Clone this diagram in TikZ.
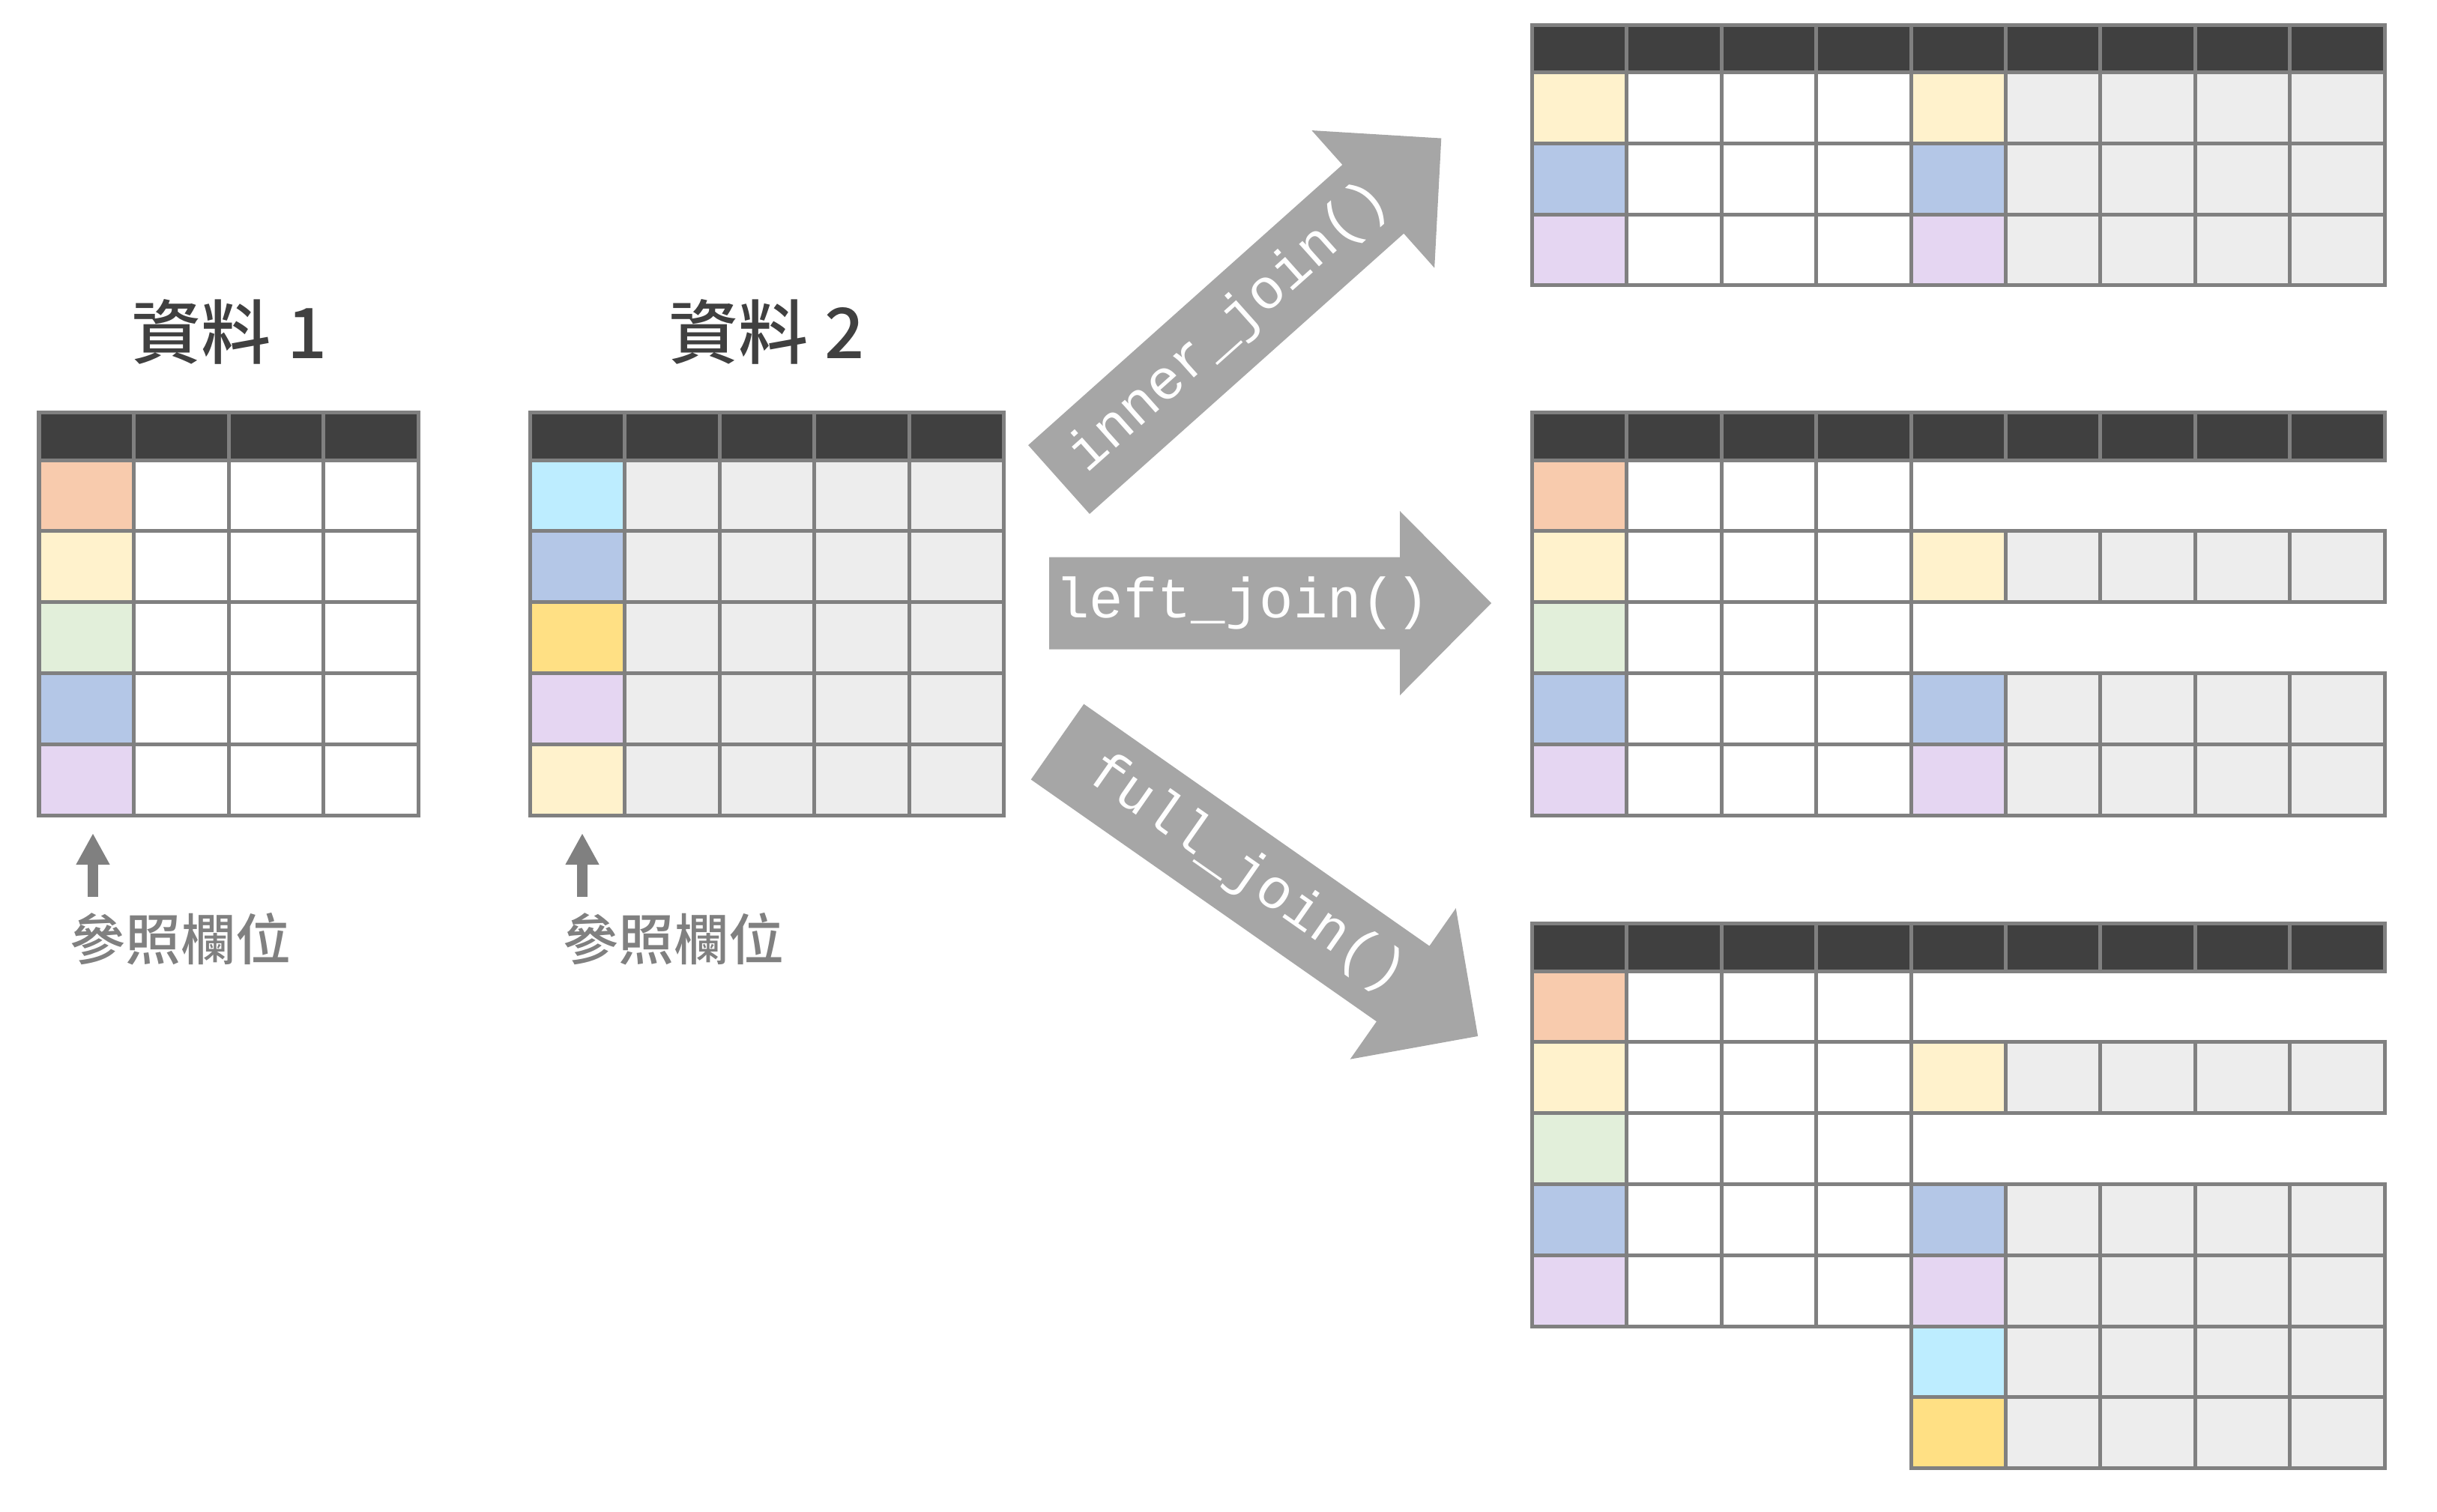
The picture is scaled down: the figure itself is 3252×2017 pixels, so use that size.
\documentclass[tikz,border=0pt]{standalone}
\usepackage{fontspec}
\newfontfamily\cjk{Noto Sans CJK TC Medium}
\newfontfamily\codefont{Liberation Mono}
\usetikzlibrary{arrows.meta}
\definecolor{headgray}{HTML}{404040}
\definecolor{linegray}{HTML}{808080}
\definecolor{arrowgray}{HTML}{A6A6A6}
\definecolor{lightcell}{HTML}{EDEDED}
\definecolor{salmon}{HTML}{F8CBAD}
\definecolor{pale}{HTML}{FFF2CC}
\definecolor{mint}{HTML}{E2EFDA}
\definecolor{steel}{HTML}{B4C7E7}
\definecolor{lilac}{HTML}{E5D6F2}
\definecolor{cyan}{HTML}{BDEDFF}
\definecolor{gold}{HTML}{FFE084}
\tikzset{
	cell/.style={draw=linegray, line width=0.05cm},
	headcell/.style={cell, fill=headgray},
	title/.style={inner sep=0pt, text=headgray, font={\fontsize{26.5}{30}\cjk}},
	keylabel/.style={inner sep=0pt, text=linegray, font={\fontsize{21}{24}\cjk}},
	keyarrow/.style={draw=linegray, line width=0.14cm, -{Triangle[length=0.42cm,width=0.42cm]}},
	joinarrow/.style={fill=arrowgray},
	joinlabel/.style={inner sep=0pt, text=white, font={\fontsize{21.5}{24}\codefont}}
}
\begin{document}
\begin{tikzpicture}[x=0.01cm, y=-0.01cm]
	\useasboundingbox (0,0) rectangle (3252,2017);
	%titles
	\node[title] (title1) at (306,443) {資料 1};
	\node[title] (title2) at (1023,443) {資料 2};
	%data 1
	\foreach \c in {0,...,3}
	\draw[headcell] (52+\c*126.5,550) rectangle ++(126.5,64);
	\foreach \col [count=\r from 0] in {salmon,pale,mint,steel,lilac}{
		\draw[cell, fill=\col] (52,614+\r*94.8) rectangle ++(126.5,94.8);
		\foreach \c in {1,2,3}
		\draw[cell, fill=white] (52+\c*126.5,614+\r*94.8) rectangle ++(126.5,94.8);
	}
	%data 2
	\foreach \c in {0,...,4}
	\draw[headcell] (707+\c*126.5,550) rectangle ++(126.5,64);
	\foreach \col [count=\r from 0] in {cyan,steel,gold,lilac,pale}{
		\draw[cell, fill=\col] (707,614+\r*94.8) rectangle ++(126.5,94.8);
		\foreach \c in {1,...,4}
		\draw[cell, fill=lightcell] (707+\c*126.5,614+\r*94.8) rectangle ++(126.5,94.8);
	}
	%key columns
	\coordinate (foot1) at (124,1197);
	\coordinate (tip1) at (124,1112);
	\coordinate (foot2) at (777,1197);
	\coordinate (tip2) at (777,1112);
	\draw[keyarrow] (foot1) -- (tip1);
	\draw[keyarrow] (foot2) -- (tip2);
	\node[keylabel] (key1) at (241,1253) {參照欄位};
	\node[keylabel] (key2) at (899,1253) {參照欄位};
	%arrows
	\begin{scope}[shift={(1413,640)}, rotate=41.75]
		\fill[joinarrow] (0,-61.5) -- (562,-61.5) -- (562,-123) -- (684,0)
		-- (562,123) -- (562,61.5) -- (0,61.5) -- cycle;
		\node[joinlabel, transform shape] (innerjoin) at (305,0) {inner\_join()};
	\end{scope}
	\begin{scope}[shift={(1400,805)}]
		\fill[joinarrow] (0,-61.5) -- (468,-61.5) -- (468,-123) -- (590,0)
		-- (468,123) -- (468,61.5) -- (0,61.5) -- cycle;
		\node[joinlabel] (leftjoin) at (258,0) {left\_join()};
	\end{scope}
	\begin{scope}[shift={(1411,990)}, rotate=-35]
		\fill[joinarrow] (0,-61.5) -- (563,-61.5) -- (563,-123) -- (685,0)
		-- (563,123) -- (563,61.5) -- (0,61.5) -- cycle;
		\node[joinlabel, transform shape] (fulljoin) at (308,0) {full\_join()};
	\end{scope}
	%inner join result
	\foreach \c in {0,...,8}
	\draw[headcell] (2044.5+\c*126.4,33) rectangle ++(126.4,63.5);
	\foreach \col [count=\r from 0] in {pale,steel,lilac}{
		\draw[cell, fill=\col] (2044.5,96.5+\r*94.8) rectangle ++(126.4,94.8);
		\foreach \c in {1,2,3}
		\draw[cell, fill=white] (2044.5+\c*126.4,96.5+\r*94.8) rectangle ++(126.4,94.8);
		\draw[cell, fill=\col] (2044.5+4*126.4,96.5+\r*94.8) rectangle ++(126.4,94.8);
		\foreach \c in {5,...,8}
		\draw[cell, fill=lightcell] (2044.5+\c*126.4,96.5+\r*94.8) rectangle ++(126.4,94.8);
	}
	%left join result
	\foreach \c in {0,...,8}
	\draw[headcell] (2044.5+\c*126.4,550.5) rectangle ++(126.4,63.5);
	\foreach \col [count=\r from 0] in {salmon,pale,mint,steel,lilac}{
		\draw[cell, fill=\col] (2044.5,614+\r*94.8) rectangle ++(126.4,94.8);
		\foreach \c in {1,2,3}
		\draw[cell, fill=white] (2044.5+\c*126.4,614+\r*94.8) rectangle ++(126.4,94.8);
	}
	\foreach \col/\r in {pale/1,steel/3,lilac/4}{
		\draw[cell, fill=\col] (2044.5+4*126.4,614+\r*94.8) rectangle ++(126.4,94.8);
		\foreach \c in {5,...,8}
		\draw[cell, fill=lightcell] (2044.5+\c*126.4,614+\r*94.8) rectangle ++(126.4,94.8);
	}
	%full join result
	\foreach \c in {0,...,8}
	\draw[headcell] (2044.5+\c*126.4,1232) rectangle ++(126.4,64);
	\foreach \col [count=\r from 0] in {salmon,pale,mint,steel,lilac}{
		\draw[cell, fill=\col] (2044.5,1296+\r*94.8) rectangle ++(126.4,94.8);
		\foreach \c in {1,2,3}
		\draw[cell, fill=white] (2044.5+\c*126.4,1296+\r*94.8) rectangle ++(126.4,94.8);
	}
	\foreach \col/\r in {pale/1,steel/3,lilac/4,cyan/5,gold/6}{
		\draw[cell, fill=\col] (2044.5+4*126.4,1296+\r*94.8) rectangle ++(126.4,94.8);
		\foreach \c in {5,...,8}
		\draw[cell, fill=lightcell] (2044.5+\c*126.4,1296+\r*94.8) rectangle ++(126.4,94.8);
	}
\end{tikzpicture}
\end{document}
